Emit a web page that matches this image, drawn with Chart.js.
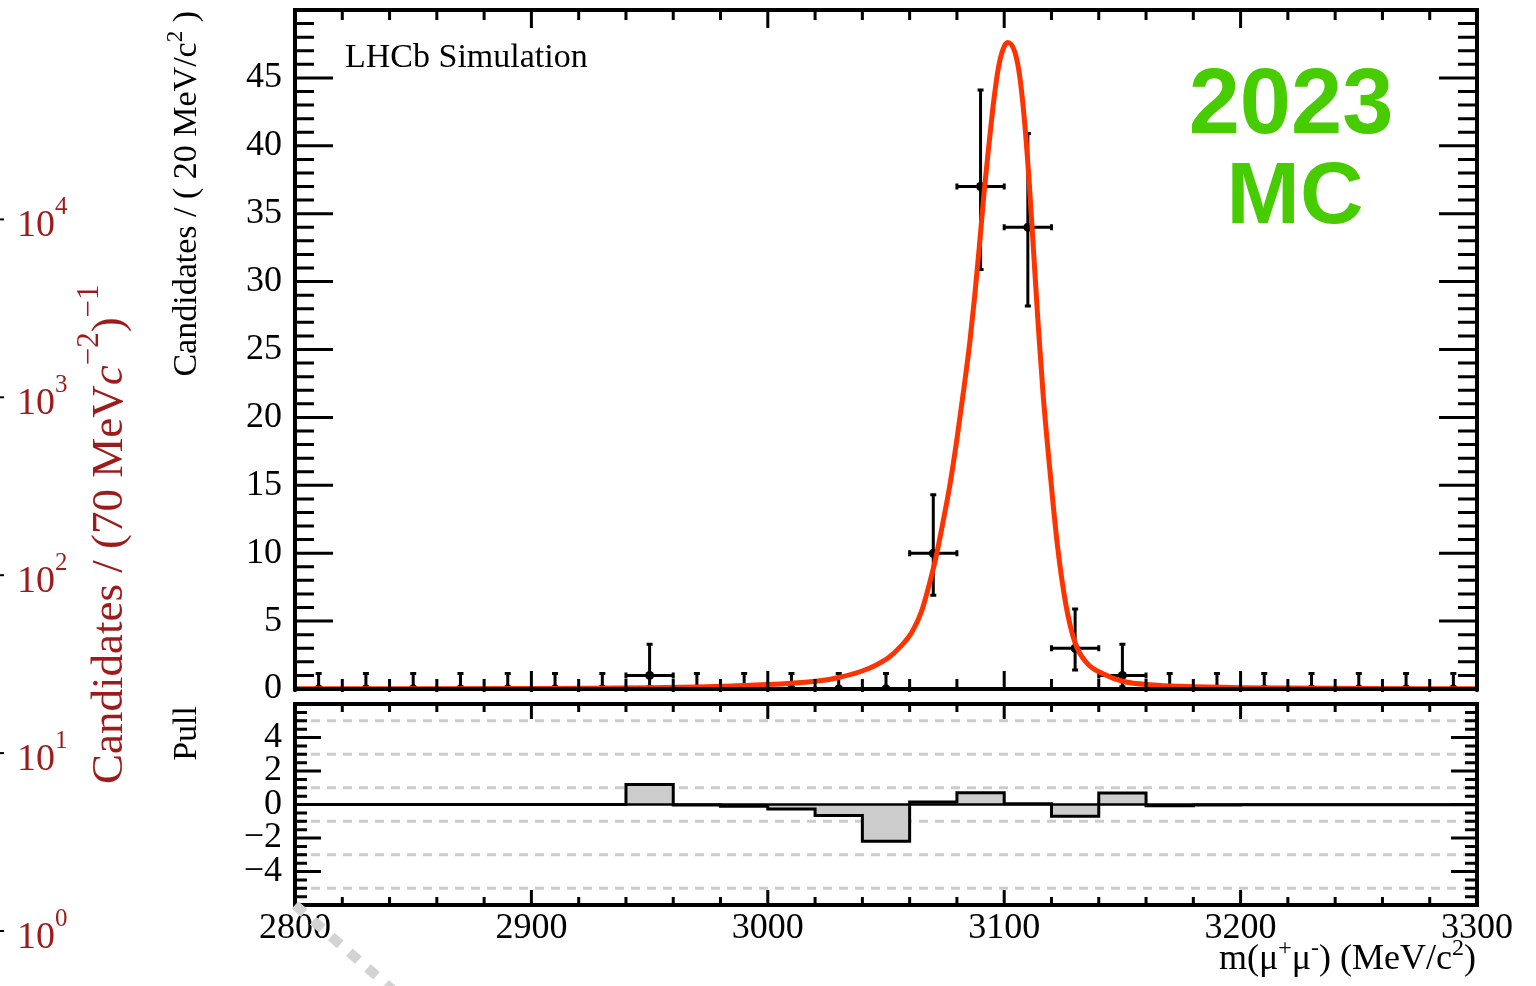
<!DOCTYPE html>
<html><head><meta charset="utf-8">
<script src="https://cdn.jsdelivr.net/npm/chart.js@4.4.1/dist/chart.umd.min.js"></script>
<style>
html,body{margin:0;padding:0;background:#fff;}
#wrap{position:relative;width:1536px;height:986px;overflow:hidden;background:#fff;}
canvas{position:absolute;left:0;top:0;}
</style></head><body>
<div id="wrap"><canvas id="main" width="1536" height="986"></canvas><canvas id="pull" width="1536" height="986"></canvas></div>
<script>
// ---------------- data ----------------
const binCenters = [2810,2830,2850,2870,2890,2910,2930,2950,2970,2990,3010,3030,3050,3070,3090,3110,3130,3150,3170,3190,3210,3230,3250,3270,3290];
const counts     = [0,0,0,0,0,0,0,1,0,0,0,0,0,10,37,34,3,1,0,0,0,0,0,0,0];
const errLow     = [0,0,0,0,0,0,0,0.83,0,0,0,0,0,3.1,6.1,5.8,1.6,0.83,0,0,0,0,0,0,0];
const errHigh    = [1.15,1.15,1.15,1.15,1.15,1.15,1.15,2.3,1.15,1.15,1.15,1.15,1.15,4.3,7.1,6.9,2.9,2.3,1.15,1.15,1.15,1.15,1.15,1.15,1.15];
const binHalfWidth = 10;

const curveX = [2800,2850,2900,2950,2970,2985,3000,3010,3022,3030,3039,3045,3051,3056,3061,3065,3068,3071,3074,3077,3080,3083,3085.5,3087.5,3089.5,3091.5,3093.5,3095.5,3097.5,3099.5,3101.5,3104.5,3106.5,3108.5,3110.5,3112.5,3114.5,3116.5,3119.5,3122.5,3126,3130,3135,3142,3150.5,3163,3175,3200,3250,3300];
const curveY = [0.01,0.02,0.04,0.09,0.15,0.23,0.33,0.43,0.6,0.85,1.27,1.7,2.3,3.1,4.2,5.7,7.5,9.6,12.2,15.0,18.4,22.2,25.6,28.9,32.6,36.6,40.0,43.2,45.7,47.1,47.6,46.9,45.2,42.0,37.5,32.0,26.5,21.6,15.8,10.6,6.3,3.4,1.9,1.1,0.55,0.3,0.2,0.1,0.04,0.02];

const pullEdges  = [2800,2820,2840,2860,2880,2900,2920,2940,2960,2980,3000,3020,3040,3060,3080,3100,3120,3140,3160,3180,3200,3220,3240,3260,3280,3300];
const pullValues = [0,0,0,0,0,0,0,1.2,-0.03,-0.1,-0.27,-0.66,-2.2,0.15,0.7,0.05,-0.7,0.68,-0.08,-0.03,-0.02,-0.02,-0.02,-0.02,-0.02];
const pullGrid   = [-5,-3,-1,1,3,5];

const mainYTicks = [0,5,10,15,20,25,30,35,40,45];
const pullYTicks = [-4,-2,0,2,4];
const xTickLabels = [2800,2900,3000,3100,3200,3300];
const logExponents = [0,1,2,3,4];

// ---------------- helpers ----------------
const SERIF = '"Liberation Serif", "Times New Roman", serif';
const SANS = '"Liberation Sans", Arial, sans-serif';
function sf(size, style){ return (style ? style + ' ' : '') + size + 'px ' + SERIF; }
function drawRich(ctx, segs, x, y, align){
  let w = 0;
  for (const s of segs){ ctx.font = s.font; w += ctx.measureText(s.t).width; }
  let cx = align === 'right' ? x - w : (align === 'center' ? x - w/2 : x);
  ctx.textAlign = 'left';
  for (const s of segs){ ctx.font = s.font; ctx.fillText(s.t, cx, y + (s.dy || 0)); cx += ctx.measureText(s.t).width; }
}
function minusFmt(v){ return v < 0 ? '\u2212' + (-v) : String(v); }
function fixY(s){ s.width = 295; s.paddingTop = 0; s.paddingBottom = 0; }
function fixX(s){ s.height = 50; s.paddingLeft = 0; s.paddingRight = 0; }

function framePlugin(cfg){
  return {
    id: 'rootFrame',
    afterDraw(chart){
      const {ctx, chartArea: a, scales: {x, y}} = chart;
      ctx.save();
      ctx.strokeStyle = '#000'; ctx.lineWidth = 3; ctx.lineCap = 'butt';
      ctx.beginPath();
      const nx = Math.round((x.max - x.min) / cfg.xMinor);
      for (let i = 0; i <= nx; i++){
        const v = x.min + i * cfg.xMinor;
        const major = Math.abs(v / cfg.xMajor - Math.round(v / cfg.xMajor)) < 1e-6;
        const len = major ? cfg.xMajorLen : cfg.xMinorLen;
        const px = x.getPixelForValue(v);
        ctx.moveTo(px, a.bottom); ctx.lineTo(px, a.bottom - len);
        ctx.moveTo(px, a.top); ctx.lineTo(px, a.top + len);
      }
      const ny = Math.round((y.max - y.min) / cfg.yMinor);
      for (let i = 0; i <= ny; i++){
        const v = y.min + i * cfg.yMinor;
        const major = Math.abs(v / cfg.yMajor - Math.round(v / cfg.yMajor)) < 1e-6;
        const len = major ? cfg.yMajorLen : cfg.yMinorLen;
        const py = y.getPixelForValue(v);
        ctx.moveTo(a.left, py); ctx.lineTo(a.left + len, py);
        ctx.moveTo(a.right, py); ctx.lineTo(a.right - len, py);
      }
      ctx.stroke();
      ctx.lineWidth = 4;
      ctx.strokeRect(a.left, a.top, a.right - a.left, a.bottom - a.top);
      ctx.restore();
    }
  };
}

const errorBarPlugin = {
  id: 'errBars',
  beforeDatasetsDraw(chart){
    const {ctx, scales: {x, y}} = chart;
    ctx.save();
    ctx.strokeStyle = '#000'; ctx.lineWidth = 3;
    ctx.beginPath();
    for (let i = 0; i < binCenters.length; i++){
      const px = x.getPixelForValue(binCenters[i]);
      const py = y.getPixelForValue(counts[i]);
      const yLo = y.getPixelForValue(counts[i] - errLow[i]);
      const yHi = y.getPixelForValue(counts[i] + errHigh[i]);
      const xL = x.getPixelForValue(binCenters[i] - binHalfWidth);
      const xR = x.getPixelForValue(binCenters[i] + binHalfWidth);
      ctx.moveTo(px, yLo); ctx.lineTo(px, yHi);
      ctx.moveTo(px - 3, yHi); ctx.lineTo(px + 3, yHi);
      if (errLow[i] > 0){ ctx.moveTo(px - 3, yLo); ctx.lineTo(px + 3, yLo); }
      ctx.moveTo(xL, py); ctx.lineTo(xR, py);
      ctx.moveTo(xL, py - 3); ctx.lineTo(xL, py + 3);
      ctx.moveTo(xR, py - 3); ctx.lineTo(xR, py + 3);
    }
    ctx.stroke();
    ctx.restore();
  }
};

const mainTextPlugin = {
  id: 'mainText',
  afterDraw(chart){
    const ctx = chart.ctx;
    ctx.save();
    ctx.fillStyle = '#000';
    ctx.textBaseline = 'alphabetic';
    ctx.font = sf(34); ctx.textAlign = 'left';
    ctx.fillText('LHCb Simulation', 345, 67);
    // y title
    ctx.save();
    ctx.translate(196, 11); ctx.rotate(-Math.PI/2);
    drawRich(ctx, [{t:'Candidates / ( 20 MeV/c', font:sf(34)}, {t:'2', font:sf(23), dy:-14}, {t:' )', font:sf(34)}], 0, 0, 'right');
    ctx.restore();
    // 2023 MC
    ctx.fillStyle = '#47cc00';
    ctx.textAlign = 'center';
    ctx.font = 'bold 92px ' + SANS;
    ctx.fillText('2023', 1291, 133);
    ctx.font = 'bold 88px ' + SANS;
    ctx.fillText('MC', 1295, 223);
    // stray red log axis on the left
    const red = '#9e1b1b';
    ctx.fillStyle = red;
    for (const k of logExponents){
      const base = 948 - k * 177.9;
      drawRich(ctx, [{t:'10', font:sf(38)}, {t:String(k), font:sf(25), dy:-22}], 17, base, 'left');
      ctx.strokeStyle = '#000'; ctx.lineWidth = 2;
      ctx.beginPath(); ctx.moveTo(0, base - 17); ctx.lineTo(4, base - 17); ctx.stroke();
    }
    ctx.save();
    ctx.translate(122, 784); ctx.rotate(-Math.PI/2);
    ctx.fillStyle = red;
    drawRich(ctx, [
      {t:'Candidates / (70 MeV', font:sf(45)},
      {t:'c', font:sf(45,'italic')},
      {t:'\u22122', font:sf(31), dy:-24},
      {t:')', font:sf(45)},
      {t:'\u22121', font:sf(31), dy:-24}
    ], 0, 0, 'left');
    ctx.restore();
    ctx.restore();
  }
};

const pullGridPlugin = {
  id: 'pullGrid',
  beforeDatasetsDraw(chart){
    const {ctx, chartArea: a, scales: {y}} = chart;
    ctx.save();
    ctx.strokeStyle = '#cccccc'; ctx.lineWidth = 3; ctx.setLineDash([9, 7]);
    ctx.beginPath();
    for (const g of pullGrid){ const py = y.getPixelForValue(g); ctx.moveTo(a.left, py); ctx.lineTo(a.right, py); }
    ctx.stroke();
    ctx.restore();
  }
};

const pullTextPlugin = {
  id: 'pullText',
  afterDraw(chart){
    const ctx = chart.ctx;
    ctx.save();
    ctx.fillStyle = '#000'; ctx.textBaseline = 'alphabetic';
    ctx.save();
    ctx.translate(196, 706); ctx.rotate(-Math.PI/2);
    drawRich(ctx, [{t:'Pull', font:sf(34)}], 0, 0, 'right');
    ctx.restore();
    drawRich(ctx, [
      {t:'m(\u03bc', font:sf(36)}, {t:'+', font:sf(24), dy:-14},
      {t:'\u03bc', font:sf(36)}, {t:'-', font:sf(24), dy:-14},
      {t:') (MeV/c', font:sf(36)}, {t:'2', font:sf(24), dy:-14},
      {t:')', font:sf(36)}
    ], 1476, 969, 'right');
    // grey dotted diagonal stroke
    ctx.strokeStyle = '#d3d3d3'; ctx.lineWidth = 10; ctx.setLineDash([12, 12]);
    ctx.beginPath(); ctx.moveTo(295, 905); ctx.lineTo(402, 998); ctx.stroke();
    ctx.restore();
  }
};

const tickFont = {family: SERIF, size: 36};

// ---------------- main panel ----------------
new Chart(document.getElementById('main'), {
  type: 'line',
  data: { datasets: [
    { label: 'fit', data: curveX.map((x, i) => ({x, y: curveY[i]})), borderColor: '#ff3300', borderWidth: 5,
      pointRadius: 0, cubicInterpolationMode: 'monotone', fill: false, order: 1 },
    { label: 'data', data: binCenters.map((x, i) => ({x, y: counts[i]})), showLine: false, pointRadius: 4.5,
      pointBackgroundColor: '#000', pointBorderWidth: 0, order: 2 }
  ]},
  options: {
    responsive: false, animation: false, devicePixelRatio: 1,
    layout: { padding: {left: 0, right: 59, top: 10, bottom: 297} },
    plugins: { legend: {display: false}, tooltip: {enabled: false} },
    scales: {
      x: { type: 'linear', min: 2800, max: 3300, display: false },
      y: { type: 'linear', min: 0, max: 50, afterFit: fixY,
           grid: {display: false, drawTicks: false}, border: {display: false},
           ticks: { stepSize: 5, autoSkip: false, padding: 13, font: tickFont, color: '#000',
                    callback: v => mainYTicks.includes(v) ? String(v) : '' } }
    }
  },
  plugins: [errorBarPlugin, framePlugin({xMinor:20, xMajor:100, xMinorLen:10, xMajorLen:18, yMinor:1, yMajor:5, yMinorLen:19, yMajorLen:38}), mainTextPlugin]
});

// ---------------- pull panel ----------------
const pullStep = pullEdges.map((x, i) => ({x, y: pullValues[Math.min(i, pullValues.length - 1)]}));
new Chart(document.getElementById('pull'), {
  type: 'line',
  data: { datasets: [
    { label: 'zero', data: [{x: pullEdges[0], y: 0}, {x: pullEdges[pullEdges.length - 1], y: 0}], borderColor: '#000',
      borderWidth: 2.5, pointRadius: 0, fill: false, order: 1 },
    { label: 'pull', data: pullStep, stepped: 'before', borderColor: '#000', borderWidth: 3, pointRadius: 0,
      fill: 'origin', backgroundColor: '#cccccc', order: 2 }
  ]},
  options: {
    responsive: false, animation: false, devicePixelRatio: 1,
    layout: { padding: {left: 0, right: 59, top: 704, bottom: 31} },
    plugins: { legend: {display: false}, tooltip: {enabled: false}, filler: {propagate: false} },
    scales: {
      x: { type: 'linear', min: 2800, max: 3300, afterFit: fixX,
           grid: {display: false, drawTicks: false}, border: {display: false},
           ticks: { stepSize: 100, autoSkip: false, maxRotation: 0, minRotation: 0, padding: 2, font: tickFont, color: '#000',
                    callback: v => xTickLabels.includes(v) ? String(v) : '' } },
      y: { type: 'linear', min: -6, max: 6, afterFit: fixY,
           grid: {display: false, drawTicks: false}, border: {display: false},
           ticks: { stepSize: 2, autoSkip: false, padding: 13, font: tickFont, color: '#000',
                    callback: v => pullYTicks.includes(v) ? minusFmt(v) : '' } }
    }
  },
  plugins: [pullGridPlugin, framePlugin({xMinor:20, xMajor:100, xMinorLen:8, xMajorLen:15, yMinor:0.5, yMajor:2, yMinorLen:12, yMajorLen:26}), pullTextPlugin]
});
</script>
</body></html>
